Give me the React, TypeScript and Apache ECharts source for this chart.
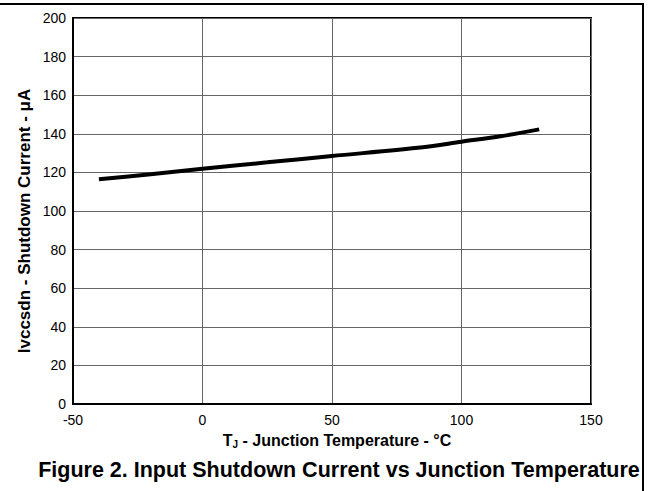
import React, { useEffect, useRef } from "react";
import * as echarts from "echarts";

const temps = [-40, -20, 0, 25, 50, 85, 100, 115, 130];
const current = [116.4, 119.1, 121.9, 125.2, 128.5, 133.0, 135.9, 138.7, 142.3];
const xTicks = [-50, 0, 50, 100, 150];
const yTicks = [0, 20, 40, 60, 80, 100, 120, 140, 160, 180, 200];

export default function App() {
  const ref = useRef<HTMLDivElement>(null);
  useEffect(() => {
    document.body.style.margin = "0";
    const chart = echarts.init(ref.current!, null, { renderer: "svg" });
    const font = "Arial, 'Liberation Sans', sans-serif";
    chart.setOption({
      animation: false,
      backgroundColor: "#ffffff",
      grid: {
        left: 73,
        top: 18,
        right: 57,
        bottom: 87,
        show: true,
        borderColor: "#000",
        borderWidth: 2,
      },
      xAxis: {
        type: "value",
        min: xTicks[0],
        max: xTicks[xTicks.length - 1],
        interval: 50,
        axisLine: { show: true, onZero: false, lineStyle: { color: "#000", width: 2 } },
        axisTick: { show: false },
        axisLabel: { color: "#000", fontSize: 14, fontFamily: font, margin: 9 },
        splitLine: { show: true, lineStyle: { color: "#666", width: 1 } },
      },
      yAxis: {
        type: "value",
        min: yTicks[0],
        max: yTicks[yTicks.length - 1],
        interval: 20,
        axisLine: { show: true, onZero: false, lineStyle: { color: "#000", width: 2 } },
        axisTick: { show: false },
        axisLabel: { color: "#000", fontSize: 14, fontFamily: font, margin: 7 },
        splitLine: { show: true, lineStyle: { color: "#666", width: 1 } },
      },
      graphic: [
        { type: "line", shape: { x1: 0, y1: 4, x2: 644, y2: 4 }, style: { stroke: "#000", lineWidth: 2 } },
        { type: "line", shape: { x1: 643, y1: 4, x2: 643, y2: 491 }, style: { stroke: "#000", lineWidth: 2 } },
        {
          type: "text",
          x: 24,
          y: 221,
          rotation: Math.PI / 2,
          style: {
            text: "Ivccsdn - Shutdown Current - μA",
            font: `bold 17px ${font}`,
            fill: "#000",
            align: "center",
            verticalAlign: "middle",
          },
        },
        {
          type: "text",
          x: 337,
          y: 440,
          style: {
            text: "{t|T}{s|J}{t| - Junction Temperature - °C}",
            fill: "#000",
            align: "center",
            verticalAlign: "middle",
            rich: {
              t: { font: `bold 16px ${font}`, fill: "#000" },
              s: { font: `bold 10px ${font}`, fill: "#000", padding: [8, 0, 0, 0] },
            },
          },
        },
        {
          type: "text",
          x: 339,
          y: 470,
          style: {
            text: "Figure 2. Input Shutdown Current vs Junction Temperature",
            font: `bold 21.5px ${font}`,
            fill: "#000",
            align: "center",
            verticalAlign: "middle",
          },
        },
      ],
      series: [
        {
          type: "line",
          data: temps.map((t, i) => [t, current[i]]),
          smooth: 0.3,
          showSymbol: false,
          lineStyle: { color: "#000", width: 4 },
        },
      ],
    });
    return () => chart.dispose();
  }, []);
  return <div ref={ref} style={{ width: 648, height: 491 }} />;
}
